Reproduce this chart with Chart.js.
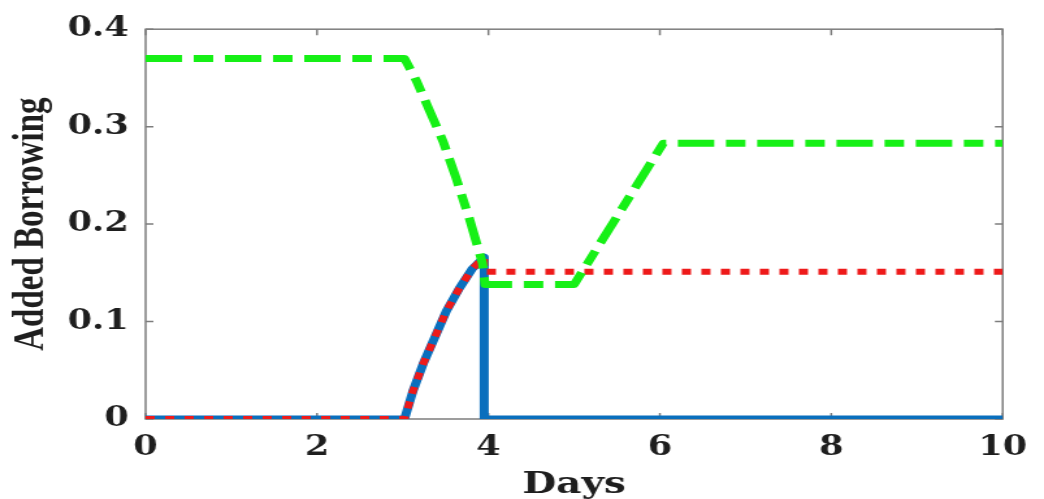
<!DOCTYPE html>
<html>
<head>
<meta charset="utf-8">
<script src="https://cdn.jsdelivr.net/npm/chart.js@4/dist/chart.umd.min.js"></script>
<style>
  body { margin: 0; background: #fff; }
</style>
</head>
<body>
<!-- figure is drawn narrow and shown stretched sideways, like the source image -->
<canvas id="chart" width="803" height="499" style="width:1044px;height:499px;display:block"></canvas>
<script>
// values (x in days)
const blueX = [0, 3.02, 3.12, 3.24, 3.37, 3.51, 3.66, 3.81, 3.95, 3.95, 10];
const blueY = [0, 0, 0.029, 0.057, 0.083, 0.111, 0.134, 0.154, 0.166, 0, 0];

const redX = [0, 3.02, 3.12, 3.24, 3.37, 3.51, 3.66, 3.81, 3.95, 3.95, 10];
const redY = [0, 0, 0.029, 0.057, 0.083, 0.111, 0.134, 0.154, 0.166, 0.151, 0.151];

const greenX = [0, 3.02, 3.16, 3.31, 3.47, 3.62, 3.78, 3.93, 3.96, 5.0, 6.04, 10];
const greenY = [0.37, 0.37, 0.347, 0.317, 0.285, 0.248, 0.205, 0.16, 0.138, 0.138, 0.283, 0.283];

const xTickLabels = ['0', '2', '4', '6', '8', '10'];
const yTickLabels = ['0', '0.1', '0.2', '0.3', '0.4'];

const toPoints = (xs, ys) => xs.map((x, i) => ({ x: x, y: ys[i] }));

const frameTicks = {
  id: 'frameTicks',
  beforeDatasetsDraw(chart) {
    const { ctx, chartArea: a, scales: { x, y } } = chart;
    ctx.save();
    ctx.strokeStyle = '#7d7d7d';
    ctx.lineWidth = 1.5;
    ctx.strokeRect(a.left, a.top, a.right - a.left, a.bottom - a.top);
    ctx.beginPath();
    x.ticks.forEach(t => {
      const px = x.getPixelForValue(t.value);
      ctx.moveTo(px, a.bottom); ctx.lineTo(px, a.bottom - 6);
      ctx.moveTo(px, a.top); ctx.lineTo(px, a.top + 6);
    });
    y.ticks.forEach(t => {
      const py = y.getPixelForValue(t.value);
      ctx.moveTo(a.left, py); ctx.lineTo(a.left + 6, py);
      ctx.moveTo(a.right, py); ctx.lineTo(a.right - 6, py);
    });
    ctx.stroke();
    ctx.restore();
  }
};

const tickFont = { family: 'DejaVu Serif', weight: 'bold', size: 27 };

new Chart(document.getElementById('chart'), {
  type: 'line',
  data: {
    datasets: [
      {
        data: toPoints(greenX, greenY),
        borderColor: 'rgb(22,240,22)',
        borderWidth: 7,
        borderDash: [28, 9, 15, 9],
        borderJoinStyle: 'round',
        pointRadius: 0,
        order: 0
      },
      {
        data: toPoints(redX, redY),
        borderColor: '#ee1a1a',
        borderWidth: 6,
        borderDash: [7, 8],
        borderJoinStyle: 'round',
        pointRadius: 0,
        order: 1
      },
      {
        data: toPoints(blueX, blueY),
        borderColor: '#0a6fbd',
        borderWidth: 7,
        borderJoinStyle: 'round',
        pointRadius: 0,
        order: 2
      }
    ]
  },
  options: {
    responsive: false,
    devicePixelRatio: 1,
    animation: false,
    layout: { padding: { top: 25, right: 24, bottom: 0, left: 0 } },
    plugins: {
      legend: { display: false },
      tooltip: { enabled: false }
    },
    scales: {
      x: {
        type: 'linear',
        min: 0,
        max: 10,
        grid: { display: false, drawTicks: false },
        border: { display: false },
        ticks: {
          stepSize: 2,
          padding: 13,
          maxRotation: 0,
          color: '#1e1e1e',
          font: tickFont,
          callback: (v, i) => xTickLabels[i]
        },
        title: {
          display: true,
          text: 'Days',
          color: '#1e1e1e',
          font: { family: 'DejaVu Serif', weight: 'bold', size: 30, lineHeight: 0.9 },
          padding: { top: 0, bottom: 0 }
        },
        afterFit(scale) { scale.height = 80; }
      },
      y: {
        min: 0,
        max: 0.4,
        grid: { display: false, drawTicks: false },
        border: { display: false },
        ticks: {
          stepSize: 0.1,
          padding: 13,
          color: '#1e1e1e',
          font: tickFont,
          callback: (v, i) => yTickLabels[i]
        },
        title: {
          display: true,
          text: 'Added Borrowing',
          color: '#1e1e1e',
          font: { family: 'Liberation Serif', weight: 'bold', size: 33, lineHeight: 1 },
          padding: { top: 8, bottom: 0 }
        },
        afterFit(scale) { scale.width = 112; }
      }
    }
  },
  plugins: [frameTicks]
});
</script>
</body>
</html>
